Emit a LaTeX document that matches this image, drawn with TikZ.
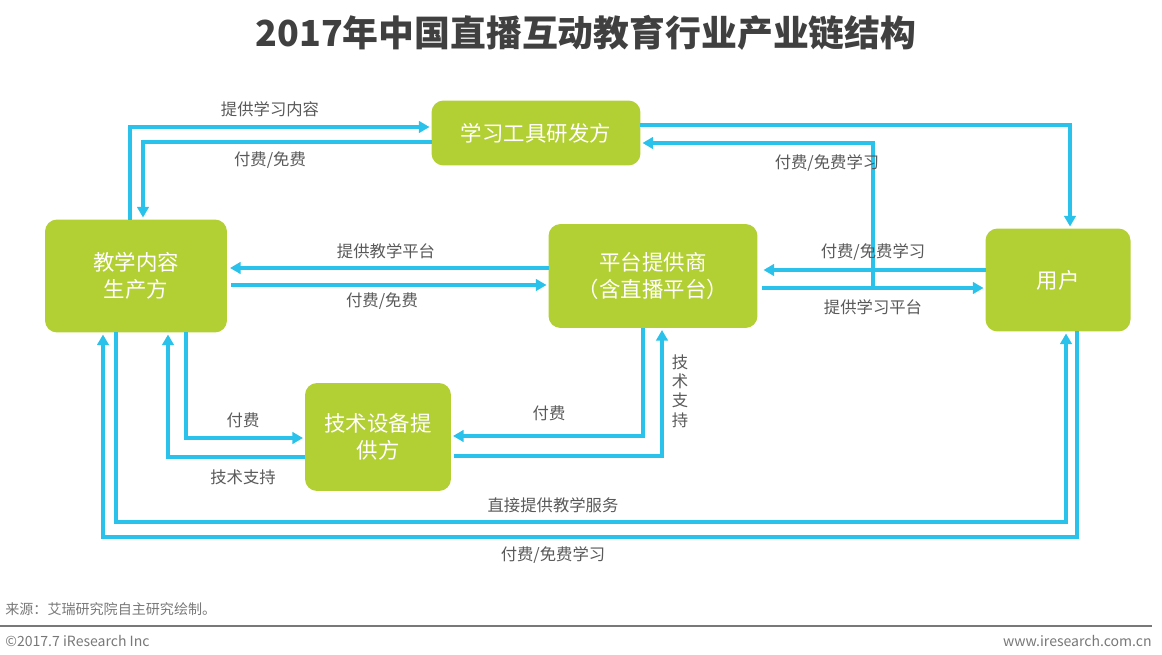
\documentclass[tikz,border=0pt]{standalone}
\usepackage{fontspec}
\setmainfont{Noto Sans CJK SC}
\usetikzlibrary{calc,arrows.meta}
\definecolor{boxgreen}{RGB}{178,207,52}
\definecolor{flowcyan}{RGB}{42,194,234}
\definecolor{labelgray}{RGB}{89,89,89}
\definecolor{titlegray}{RGB}{64,64,64}
\definecolor{footgray}{RGB}{120,120,120}

\begin{document}
\begin{tikzpicture}[x=0.02cm, y=-0.02cm,
  party/.style={fill=boxgreen, rounded corners=0.24cm, inner sep=0pt, outer sep=0pt,
    text=white, align=center, font=\fontsize{12.2}{15}\selectfont},
  flow/.style={draw=flowcyan, line width=1.9pt, -{Triangle[length=6pt,width=6.5pt]}},
  lbl/.style={text=labelgray, font=\fontsize{9.3}{11}\selectfont, inner sep=0pt},
  foot/.style={text=footgray, font=\fontsize{8}{10}\selectfont, inner sep=0pt}]
  \useasboundingbox (0,0) rectangle (1162,655);

  % title
  \node[text=titlegray, font=\fontsize{20.4}{24}\selectfont\bfseries] (title) at (586,33) {2017年中国直播互动教育行业产业链结构};

  % participants
  \node[party, minimum width=4.18cm, minimum height=1.30cm] (tool) at (536,133) {学习工具研发方};
  \node[party, minimum width=3.64cm, minimum height=2.26cm] (content) at (136,276) {教学内容\\生产方};
  \node[party, minimum width=4.18cm, minimum height=2.08cm] (platform) at (653,276) {平台提供商\\（含直播平台）};
  \node[party, minimum width=2.90cm, minimum height=2.06cm] (user) at (1058,280) {用户};
  \node[party, minimum width=2.92cm, minimum height=2.16cm] (tech) at (378,437) {技术设备提\\供方};
  \coordinate (split) at (873,288);

  % content <-> tool
  \draw[flow] ($(content.north)+(-6,0)$) |- ($(tool.west)+(-2,-6)$);
  \draw[flow] ($(tool.west)+(0,9)$) -| ($(content.north)+(7,-2)$);
  \node[lbl] (l1) at (270,109) {提供学习内容};
  \node[lbl] (l2) at (270,160) {付费/免费};

  % tool <-> user
  \draw[flow] ($(tool.east)+(0,-8)$) -| ($(user.north)+(12,-2)$);
  \draw[flow] (split) |- ($(tool.east)+(2,10)$);
  \node[lbl] (l3) at (827,163) {付费/免费学习};

  % content <-> platform
  \draw[flow] ($(platform.west)+(0,-8)$) -- ($(content.east)+(3,-8)$);
  \draw[flow] ($(content.east)+(4,9)$) -- ($(platform.west)+(-2,9)$);
  \node[lbl] (l4) at (386,251) {提供教学平台};
  \node[lbl] (l5) at (382,301) {付费/免费};

  % platform <-> user
  \draw[flow] ($(user.west)+(0,-10)$) -- ($(platform.east)+(6,-6)$);
  \draw[flow] ($(platform.east)+(5,12)$) -- ($(user.west)+(-2,8)$);
  \node[lbl] (l6) at (873,252) {付费/免费学习};
  \node[lbl] (l7) at (873,307) {提供学习平台};

  % content <-> tech
  \draw[flow] ($(content.south)+(50,0)$) |- ($(tech.west)+(-2,1)$);
  \draw[flow] ($(tech.west)+(0,20)$) -| ($(content.south)+(32,2)$);
  \node[lbl] (l8) at (243,420) {付费};
  \node[lbl] (l9) at (243,477) {技术支持};

  % platform <-> tech
  \draw[flow] ($(platform.south)+(-10,0)$) |- ($(tech.east)+(2,-1)$);
  \draw[flow] ($(tech.east)+(3,19)$) -| ($(platform.south)+(9,2)$);
  \node[lbl] (l10) at (549,413) {付费};
  \node[lbl, align=center] (l11) at (680,391) {技\\术\\支\\持};

  % content <-> user
  \draw[flow] ($(content.south)+(-20,0)$) -- ++(0,189.5) -| ($(user.south)+(8,2)$);
  \draw[flow] ($(user.south)+(19,0)$) -- ++(0,205.5) -| ($(content.south)+(-33,2)$);
  \node[lbl] (l12) at (553,505) {直接提供教学服务};
  \node[lbl] (l13) at (553,555) {付费/免费学习};

  % footer
  \node[foot, anchor=west] (src) at (5,609) {来源：艾瑞研究院自主研究绘制。};
  \draw[footgray, line width=0.8pt] (0,626) -- (1152,626);
  \node[foot, anchor=west] (copy) at (5,641) {©2017.7 iResearch Inc};
  \node[foot, anchor=east] (web) at (1152,641) {www.iresearch.com.cn};
\end{tikzpicture}
\end{document}
